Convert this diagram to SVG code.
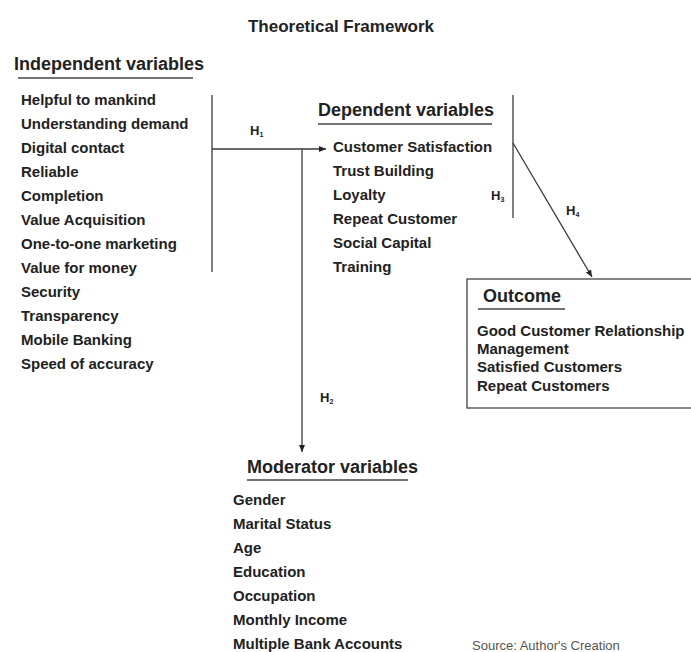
<svg xmlns="http://www.w3.org/2000/svg" width="691" height="652" viewBox="0 0 691 652">
<style>
text{font-family:"Liberation Sans",Arial,sans-serif;font-weight:bold;fill:#222;}
.t{font-size:17px;}
.h{font-size:18px;}
.i{font-size:15px;}
.o{font-size:15px;}
.lab{font-size:13px;}
.sub{font-size:7px;}
.src{font-size:13px;font-weight:normal;fill:#555;}
.ln{stroke:#3a3a3a;stroke-width:1.3;fill:none;}
.ul{stroke:#444;stroke-width:1.5;}
</style>
<defs>
<marker id="ah" markerWidth="8" markerHeight="8" refX="7" refY="4" orient="auto" markerUnits="userSpaceOnUse">
<path d="M0,1 L7,4 L0,7 Z" fill="#222"/>
</marker>
</defs>
<rect width="691" height="652" fill="#fff"/>
<text class="t" x="341" y="32" text-anchor="middle">Theoretical Framework</text>

<g id="independent">
<text class="h" x="14" y="70">Independent variables</text>
<line class="ul" x1="18" y1="78" x2="193" y2="78"/>
<text class="i" x="21" y="105">Helpful to mankind</text>
<text class="i" x="21" y="129">Understanding demand</text>
<text class="i" x="21" y="153">Digital contact</text>
<text class="i" x="21" y="177">Reliable</text>
<text class="i" x="21" y="201">Completion</text>
<text class="i" x="21" y="225">Value Acquisition</text>
<text class="i" x="21" y="249">One-to-one marketing</text>
<text class="i" x="21" y="273">Value for money</text>
<text class="i" x="21" y="297">Security</text>
<text class="i" x="21" y="321">Transparency</text>
<text class="i" x="21" y="345">Mobile Banking</text>
<text class="i" x="21" y="369">Speed of accuracy</text>
<line class="ln" x1="212" y1="95" x2="212" y2="272"/>
</g>

<g id="dependent">
<text class="h" x="318" y="116">Dependent variables</text>
<line class="ul" x1="318" y1="124" x2="492" y2="124"/>
<text class="i" x="333" y="152">Customer Satisfaction</text>
<text class="i" x="333" y="176">Trust Building</text>
<text class="i" x="333" y="200">Loyalty</text>
<text class="i" x="333" y="224">Repeat Customer</text>
<text class="i" x="333" y="248">Social Capital</text>
<text class="i" x="333" y="272">Training</text>
<line class="ln" x1="513" y1="95" x2="513" y2="218"/>
</g>

<g id="outcome">
<rect x="467" y="279" width="240" height="129" fill="none" stroke="#444" stroke-width="1.3"/>
<text class="h" x="483" y="302">Outcome</text>
<line class="ul" x1="478" y1="309" x2="565" y2="309"/>
<text class="o" x="477" y="336">Good Customer Relationship</text>
<text class="o" x="477" y="354">Management</text>
<text class="o" x="477" y="372">Satisfied Customers</text>
<text class="o" x="477" y="391">Repeat Customers</text>
</g>

<g id="moderator">
<text class="h" x="247" y="473">Moderator variables</text>
<line class="ul" x1="247" y1="480" x2="408" y2="480"/>
<text class="i" x="233" y="505">Gender</text>
<text class="i" x="233" y="529">Marital Status</text>
<text class="i" x="233" y="553">Age</text>
<text class="i" x="233" y="577">Education</text>
<text class="i" x="233" y="601">Occupation</text>
<text class="i" x="233" y="625">Monthly Income</text>
<text class="i" x="233" y="649">Multiple Bank Accounts</text>
</g>

<g id="connectors">
<line class="ln" x1="212" y1="149" x2="326" y2="149" marker-end="url(#ah)"/>
<line class="ln" x1="302" y1="149" x2="302" y2="452" marker-end="url(#ah)"/>
<line class="ln" x1="513" y1="143" x2="592" y2="277" marker-end="url(#ah)"/>
<text class="lab" x="250" y="135">H<tspan class="sub" dy="2">1</tspan></text>
<text class="lab" x="320" y="402">H<tspan class="sub" dy="2">2</tspan></text>
<text class="lab" x="491" y="200">H<tspan class="sub" dy="2">3</tspan></text>
<text class="lab" x="566" y="215">H<tspan class="sub" dy="2">4</tspan></text>
</g>

<text class="src" x="472" y="650">Source: Author's Creation</text>
</svg>
